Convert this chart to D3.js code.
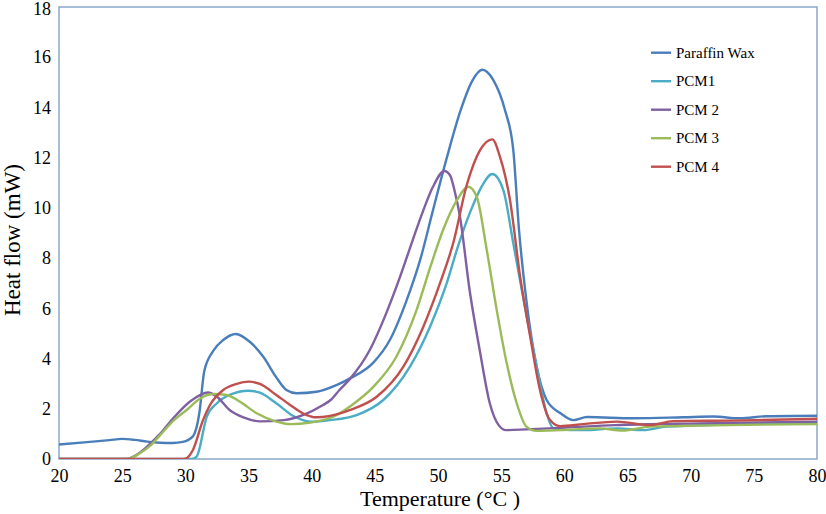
<!DOCTYPE html>
<html><head><meta charset="utf-8">
<script src="https://cdn.jsdelivr.net/npm/d3@7"></script>
<style>body{margin:0;background:#fff}svg{display:block}</style>
</head><body>
<svg id="chart" width="826" height="514"></svg>
<script>
const seriesNames = ["Paraffin Wax", "PCM1", "PCM 2", "PCM 3", "PCM 4"];
const seriesColors = ["#4a7ebb", "#4bacc6", "#7f60a0", "#9bbb59", "#c0504d"];
const xTicks = [20, 25, 30, 35, 40, 45, 50, 55, 60, 65, 70, 75, 80];
const yTicks = [0, 2, 4, 6, 8, 10, 12, 14, 16, 18];

const paraffinWax = [[20,0.58],[22,0.66],[24,0.75],[25,0.8],[26,0.76],[27,0.69],[28,0.65],[29,0.64],[29.8,0.68],[30.6,0.9],[31.1,1.8],[31.5,3.5],[32.2,4.3],[33,4.74],[34,4.98],[35.1,4.67],[36.2,4.05],[37.2,3.25],[38,2.75],[38.8,2.62],[40.4,2.68],[42,2.95],[43,3.2],[44.9,3.85],[46.2,4.75],[47.5,6.3],[48.6,7.95],[49.6,9.9],[50.7,12.0],[51.8,13.9],[52.7,15.05],[53.5,15.5],[54.38,15.09],[55.3,13.9],[55.96,12.3],[56.4,9.2],[57,6.3],[57.8,3.7],[58.6,2.35],[59.7,1.82],[60.7,1.55],[61.8,1.67],[65.5,1.62],[69.4,1.66],[71.8,1.69],[73.9,1.62],[76,1.7],[80,1.72]];
const pcm1 = [[20,0],[30.5,0],[30.9,0.1],[31.7,1.69],[32.5,2.22],[33.5,2.55],[35,2.72],[35.9,2.64],[37.2,2.22],[38.55,1.71],[39.9,1.49],[41.45,1.55],[43.56,1.75],[45.67,2.35],[47.78,3.68],[49.37,5.27],[50.69,7.0],[51.6,8.5],[52.6,9.9],[53.4,10.8],[54.3,11.35],[55.17,10.71],[55.96,8.59],[57.02,5.67],[57.81,3.68],[58.6,1.82],[59.13,1.22],[60.45,1.15],[61.5,1.15],[64.15,1.22],[66.25,1.15],[68.1,1.29],[80,1.45]];
const pcm2 = [[20,0],[25.3,0],[26.4,0.25],[27.2,0.6],[28,1.0],[29,1.6],[30.4,2.3],[31.8,2.65],[32.5,2.48],[33.5,1.95],[34.6,1.66],[35.9,1.5],[37.8,1.55],[39.3,1.75],[40.9,2.15],[41.5,2.35],[42.2,2.75],[43,3.17],[44.6,4.34],[45.9,5.8],[47,7.26],[48,8.72],[48.8,9.85],[49.6,10.84],[50.5,11.47],[50.95,11.3],[51.35,10.6],[51.74,9.65],[52.5,6.73],[53.3,4.34],[54.1,2.22],[54.8,1.35],[55.4,1.15],[57,1.18],[60,1.25],[64,1.35],[70.7,1.42],[80,1.49]];
const pcm3 = [[20,0],[25.4,0],[26.4,0.23],[27.2,0.52],[28,0.95],[29,1.5],[30.1,1.95],[31.2,2.42],[32.2,2.59],[33.27,2.55],[34.33,2.28],[35.65,1.82],[37.2,1.49],[38.3,1.39],[39.9,1.45],[42,1.75],[43,2.08],[44.9,2.88],[46.7,4.07],[48.3,5.93],[49.4,7.66],[50.4,9.12],[51.5,10.31],[52.4,10.84],[53.06,10.45],[53.86,8.32],[54.65,5.93],[55.44,3.81],[56.23,2.22],[57,1.29],[57.8,1.12],[59.7,1.15],[62.8,1.22],[64.6,1.13],[66.8,1.29],[80,1.39]];
const pcm4 = [[20,0],[29.9,0],[30.6,0.36],[31.4,1.55],[31.95,2.15],[33,2.75],[34.07,2.99],[35,3.08],[35.9,2.99],[37.2,2.55],[38.3,2.15],[39.3,1.82],[40.4,1.66],[41.45,1.72],[43,1.95],[45.15,2.48],[47.26,3.68],[48.84,5.27],[50.16,7.0],[51.2,8.59],[52.27,10.9],[53.33,12.3],[54.3,12.73],[54.9,12.04],[55.7,10.31],[56.5,7.26],[57.3,4.87],[58.07,2.75],[58.87,1.55],[59.66,1.31],[61.5,1.39],[64.15,1.49],[66.8,1.35],[68.6,1.51],[73.4,1.53],[80,1.6]];
const seriesData = [paraffinWax, pcm1, pcm2, pcm3, pcm4];

const svg = d3.select("#chart");
const L = 59, R = 817, T = 7, B = 459;
const x = d3.scaleLinear().domain([20, 80]).range([L, R]);
const y = d3.scaleLinear().domain([0, 18]).range([B, T]);
const font = "'Liberation Serif', 'Times New Roman', serif";

svg.append("defs").append("clipPath").attr("id","clip")
  .append("rect").attr("x", L).attr("y", T - 2).attr("width", R - L).attr("height", B - T + 2);

// frame
svg.append("rect").attr("x", L).attr("y", T).attr("width", R - L).attr("height", B - T)
  .attr("fill", "none").attr("stroke", "#8aa8c8").attr("stroke-width", 1.5);

// axes (labels only)
const xAxis = svg.append("g").attr("transform", `translate(0,${B})`)
  .call(d3.axisBottom(x).tickValues(xTicks).tickSize(0).tickPadding(10).tickFormat(d3.format("d")));
const yAxis = svg.append("g").attr("transform", `translate(${L},0)`)
  .call(d3.axisLeft(y).tickValues(yTicks).tickSize(0).tickPadding(8).tickFormat(d3.format("d")));
[xAxis, yAxis].forEach(a => {
  a.select(".domain").remove();
  a.selectAll("text").attr("font-family", font).attr("font-size", 18).attr("fill", "#000");
});
yAxis.selectAll(".tick text").filter(d => d === 18).attr("dy", "0.42em");

// lines
const line = d3.line().x(d => x(d[0])).y(d => y(d[1])).curve(d3.curveMonotoneX);
svg.append("g").attr("clip-path", "url(#clip)")
  .selectAll("path").data(seriesData).join("path")
  .attr("d", line).attr("fill", "none")
  .attr("stroke", (d, i) => seriesColors[i]).attr("stroke-width", 2.4)
  .attr("stroke-linejoin", "round");

// axis titles
svg.append("text").attr("x", 440).attr("y", 506).attr("text-anchor", "middle")
  .attr("font-family", font).attr("font-size", 22).text("Temperature (°C )");
svg.append("text").attr("transform", `translate(20,240) rotate(-90)`)
  .attr("text-anchor", "middle").attr("font-family", font).attr("font-size", 23).text("Heat flow (mW)");

// legend
const lg = svg.append("g");
seriesNames.forEach((n, i) => {
  const cy = 52.7 + i * 28.5;
  lg.append("line").attr("x1", 651).attr("x2", 671).attr("y1", cy).attr("y2", cy)
    .attr("stroke", seriesColors[i]).attr("stroke-width", 2.4);
  lg.append("text").attr("x", 676).attr("y", cy).attr("dy", "0.35em")
    .attr("font-family", font).attr("font-size", 15).text(n);
});
</script>
</body></html>
